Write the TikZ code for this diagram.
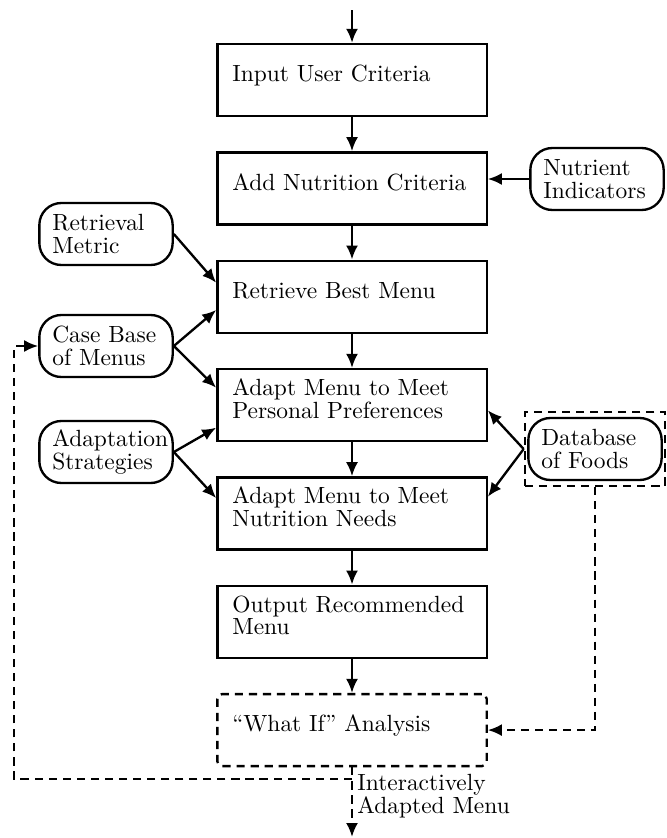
\documentclass[tikz,border=0pt]{standalone}
\usetikzlibrary{arrows.meta,positioning,fit}

\tikzset{
  stage/.style={draw, line width=1pt, minimum width=4.04cm, minimum height=1.08cm,
    text width=3.59cm, inner xsep=0.225cm, align=left,
    execute at end node={\rule[-0.2cm]{0pt}{0.1pt}}},
  source/.style={draw, line width=1pt, rounded corners=0.33cm, minimum width=2cm,
    minimum height=0.93cm, text width=1.61cm, inner xsep=0.195cm, align=left},
  broken/.style={dash pattern=on 3.5pt off 2.5pt},
  flow/.style={->, line width=1pt},
  loopback/.style={->, line width=1pt, broken},
}

\begin{document}
\begin{tikzpicture}[x=0.015cm, y=-0.015cm, >={Latex[length=2.1mm,width=1.8mm]},
    font=\fontsize{10}{9.6}\selectfont]
  \useasboundingbox (0,0) rectangle (666,838);
  % main chain of stages
  \node[stage] (input) at (352,80) {Input User Criteria};
  \node[stage, below=0.51cm of input] (addnut) {Add Nutrition Criteria};
  \node[stage, below=0.51cm of addnut] (retrieve) {Retrieve Best Menu};
  \node[stage, below=0.51cm of retrieve] (prefs) {Adapt Menu to Meet\\Personal Preferences};
  \node[stage, below=0.51cm of prefs] (needs) {Adapt Menu to Meet\\Nutrition Needs};
  \node[stage, below=0.51cm of needs] (output) {Output Recommended\\Menu};
  \node[stage, broken, rounded corners=2pt, below=0.51cm of output] (whatif) {``What If'' Analysis};
  % knowledge sources
  \node[source] (metric) at (106,234) {Retrieval\\Metric};
  \node[source] (cases) at (106,346) {Case Base\\of Menus};
  \node[source] (strat) at (106,452) {Adaptation\\Strategies};
  \node[source] (nutind) at (597,179) {Nutrient\\Indicators};
  \node[source] (foods) at (595,449) {Database\\of Foods};
  \node[draw, line width=1pt, broken, fit=(foods), inner xsep=1pt, inner ysep=2pt] (foodsbox) {};
  % main flow
  \coordinate (entry) at (352,10);
  \draw[flow] (entry) -- (input);
  \draw[flow] (input) -- (addnut);
  \draw[flow] (addnut) -- (retrieve);
  \draw[flow] (retrieve) -- (prefs);
  \draw[flow] (prefs) -- (needs);
  \draw[flow] (needs) -- (output);
  \draw[flow] (output) -- (whatif);
  % inputs from the sources
  \draw[flow] (nutind) -- (nutind -| addnut.east);
  \draw[flow] (metric.east) -- ([yshift=0.21cm]retrieve.west);
  \draw[flow] (cases.east) -- ([yshift=-0.2cm]retrieve.west);
  \draw[flow] (cases.east) -- ([yshift=0.26cm]prefs.west);
  \draw[flow] (strat.east) -- ([yshift=-0.34cm]prefs.west);
  \draw[flow] (strat.east) -- ([yshift=0.23cm]needs.west);
  \draw[flow] (foodsbox.west) -- ([yshift=-0.08cm]prefs.east);
  \draw[flow] (foodsbox.west) -- ([yshift=0.25cm]needs.east);
  % interactive part
  \coordinate (split) at (352,779);
  \coordinate (turn) at (14,779);
  \coordinate (exit) at (352,837);
  \draw[loopback] (foodsbox.south) |- (whatif.east);
  \draw[loopback] (whatif) -- (exit);
  \draw[loopback] (split) -- (turn) |- (cases.west);
  \node[anchor=west, align=left, inner sep=0pt] (result) at (357,796) {Interactively\\Adapted Menu};
\end{tikzpicture}
\end{document}
